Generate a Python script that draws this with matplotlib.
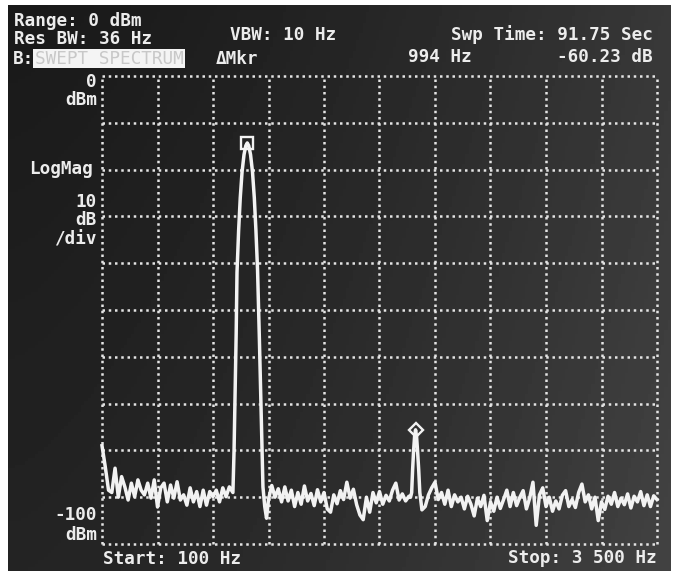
import numpy as np
import matplotlib.pyplot as plt

#%% Trace data (Hz, dBm)
start_hz, stop_hz = 100, 3500
ref_dbm, bottom_dbm = 0, -100

# noise floor, sampled every 20 Hz, split around the two peaks
seg1_dbm = [-79.0, -83.5, -88.5, -89.0, -83.8, -90.0, -85.6, -87.8, -90.6, -87.0,
            -89.9, -86.3, -88.5, -89.5, -87.0, -90.2, -86.3, -92.1, -88.0, -87.0,
            -91.0, -87.4, -90.2, -86.7, -90.6, -89.5, -91.7, -88.0, -91.0, -88.8,
            -92.0, -88.5, -91.7, -88.8, -89.9, -88.5, -91.0, -88.0, -89.9, -87.8]
seg2_dbm = [-90.5, -87.5, -90.0, -88.2, -91.0, -87.8, -90.8, -88.5, -92.0, -89.0,
            -91.5, -87.6, -90.8, -89.2, -91.8, -88.4, -91.0, -89.0, -92.5, -93.2,
            -89.5, -91.4, -88.6, -90.5, -86.8, -90.2, -88.3, -91.6, -93.8, -94.8,
            -90.0, -93.2, -89.0, -91.2, -88.8, -91.5, -89.6, -90.8, -88.5, -87.0,
            -90.6, -89.3, -90.8, -89.8]
seg3_dbm = [-92.7, -92.0, -89.5, -88.0, -86.8, -90.5, -89.0, -91.5, -88.5, -92.0,
            -89.5, -91.0, -90.0, -92.5, -89.8, -91.5, -94.0, -90.2, -92.0, -89.6,
            -95.0, -91.0, -93.0, -90.0, -92.4, -90.5, -88.5, -92.0, -89.0, -91.8,
            -90.0, -88.6, -92.5, -90.2, -86.8, -96.0, -89.5, -88.0, -92.0, -90.0,
            -93.0, -90.8, -92.5, -89.6, -88.6, -92.0, -90.5, -92.2, -89.0, -87.2,
            -91.0, -89.5, -92.5, -90.0, -95.0, -91.0, -92.6, -89.8, -91.5, -89.0,
            -92.0, -90.2, -91.6, -89.3, -92.3, -89.8, -91.0, -88.8, -91.8, -89.5,
            -92.0, -89.7, -90.5]
seg1_hz = np.arange(100, 881, 20)
seg2_hz = np.arange(1120, 1981, 20)
seg3_hz = np.arange(2060, 3501, 20)

# fundamental (~1 kHz), straight tapered sides
pk1_hz = [902, 909, 916, 922, 927, 937, 947, 958, 970, 981, 990, 999, 1010,
          1022, 1033, 1043, 1053, 1058, 1064, 1071, 1078, 1086, 1097, 1108]
pk1_dbm = [-89.0, -80.0, -66.0, -55.0, -42.0, -33.0, -26.0, -20.5, -16.8, -14.9,
           -14.3, -14.9, -16.8, -20.5, -26.0, -33.0, -41.5, -48.0, -56.0, -66.0,
           -76.0, -87.8, -92.0, -94.5]

# 2nd harmonic (~2 kHz)
pk2_hz = [1990, 1997, 2003, 2009, 2015, 2021, 2027, 2033, 2040, 2047, 2054]
pk2_dbm = [-90.0, -89.0, -84.0, -80.0, -77.0, -75.6, -77.0, -80.0, -84.0, -89.0, -91.0]

marker_hz = [990, 2022]
marker_dbm = [-14.3, -75.6]

trace_hz = np.concatenate([seg1_hz, pk1_hz, seg2_hz, pk2_hz, seg3_hz])
trace_dbm = np.concatenate([seg1_dbm, pk1_dbm, seg2_dbm, pk2_dbm, seg3_dbm])

#%% Figure setup
W, H = 678, 571
fig = plt.figure(figsize=(W / 100, H / 100), dpi=100, facecolor='white')

def px(x, y):
    """image pixel -> figure fraction"""
    return x / W, 1 - y / H

# dark CRT background, a bit lighter on the right
bg = fig.add_axes([8 / W, 0, (671 - 8) / W, (H - 5) / H], zorder=0)
gx = np.linspace(0, 1, 200)
gy = np.linspace(0, 1, 160)
shade = 0.10 + 0.12 * gx[None, :] ** 1.5 + 0.04 * gy[:, None]
bg.imshow(shade, cmap='gray', vmin=0, vmax=1, aspect='auto', extent=[0, 1, 0, 1])
bg.axis('off')

ax = fig.add_axes([102 / W, 1 - 544 / H, (657 - 102) / W, (544 - 76) / H], zorder=1)
ax.set_facecolor('none')
ax.set_xlim(start_hz, stop_hz)
ax.set_ylim(bottom_dbm, ref_dbm)
ax.axis('off')

dots = dict(color='#e4e4e4', lw=1.8, linestyle=(0, (1, 1.5)), clip_on=False, zorder=2)
for f in np.linspace(start_hz, stop_hz, 11):
    ax.plot([f, f], [bottom_dbm, ref_dbm], **dots)
for d in range(bottom_dbm, ref_dbm + 1, 10):
    ax.plot([start_hz, stop_hz], [d, d], **dots)

ax.plot(trace_hz, trace_dbm, color='#f2f2f2', lw=2.5, zorder=3, clip_on=False)
ax.plot(marker_hz[0], marker_dbm[0], 's', ms=8.5, mfc='none', mec='#f2f2f2', mew=1.7, zorder=4)
ax.plot(marker_hz[1], marker_dbm[1], 'D', ms=7.5, mfc='none', mec='#f2f2f2', mew=1.7, zorder=4)

#%% Screen annotations
txt = dict(color='#ececec', fontsize=12.7, fontweight='bold', family='DejaVu Sans Mono')

def put(x, y, s, ha='left', **kw):
    opts = dict(txt)
    opts.update(kw)
    fig.text(*px(x, y), s, ha=ha, va='center', **opts)

put(14, 21, 'Range: 0 dBm')
put(14, 39, 'Res BW: 36 Hz')
put(13, 59, 'B:')
fig.patches.append(plt.Rectangle(px(33, 68), 152 / W, 19 / H, transform=fig.transFigure,
                                 facecolor='#f4f4f4', edgecolor='none', zorder=3))
put(109, 59, 'SWEPT SPECTRUM', ha='center', color='#c8c8c8', fontweight='normal', zorder=4)
put(230, 35, 'VBW: 10 Hz')
put(216, 59, '\u0394Mkr')
put(653, 35, 'Swp Time: 91.75 Sec', ha='right')
put(408, 57, '994 Hz')
put(653, 57, '-60.23 dB', ha='right')

put(97, 82, '0', ha='right')
put(97, 100, 'dBm', ha='right')
put(93, 169, 'LogMag', ha='right')
put(97, 202, '10', ha='right')
put(97, 220, 'dB', ha='right')
put(97, 239, '/div', ha='right')
put(97, 515, '-100', ha='right')
put(97, 535, 'dBm', ha='right')

put(103, 559, 'Start: 100 Hz')
put(657, 558, 'Stop: 3 500 Hz', ha='right')

fig.savefig('out.png', dpi=100, facecolor='white')
